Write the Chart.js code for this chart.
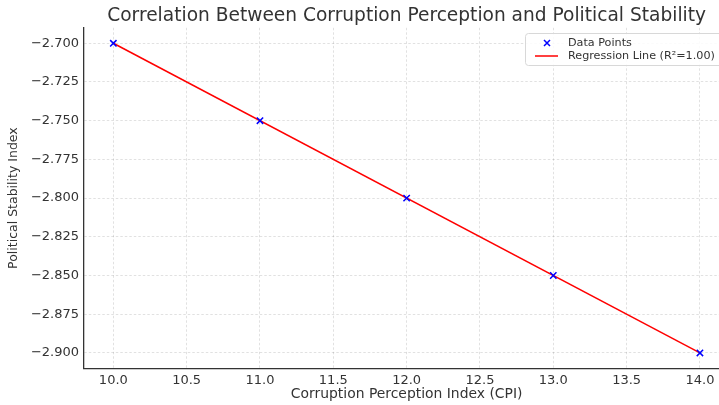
<!DOCTYPE html>
<html>
<head>
<meta charset="utf-8">
<script src="https://cdn.jsdelivr.net/npm/chart.js@4.4.0/dist/chart.umd.min.js"></script>
<style>
  html, body { margin: 0; padding: 0; background: #fff; }
  #wrap { width: 719px; height: 405px; }
</style>
</head>
<body>
<div id="wrap"><canvas id="chart" width="719" height="405"></canvas></div>
<script>
const cpiValues = [10, 11, 12, 13, 14];
const stabilityValues = [-2.70, -2.75, -2.80, -2.85, -2.90];
const regressionX = [10, 14];
const regressionY = [-2.70, -2.90];

const titleText = 'Correlation Between Corruption Perception and Political Stability';
const xTitle = 'Corruption Perception Index (CPI)';
const yTitle = 'Political Stability Index';
const legendLabels = ['Data Points', 'Regression Line (R\u00b2=1.00)'];

const FONT = '"DejaVu Sans", sans-serif';
const TEXT = '#333';

function fmtMinus(v, digits) {
    return v.toFixed(digits).replace('-', '\u2212');
}

// titles + legend, placed like the matplotlib original
const decorations = {
    id: 'decorations',
    afterDraw(chart) {
        const { ctx, chartArea, scales } = chart;
        const cx = scales.x.getPixelForValue(12);
        ctx.save();
        ctx.fillStyle = TEXT;
        ctx.textAlign = 'center';
        ctx.textBaseline = 'middle';
        ctx.font = '18.6px ' + FONT;
        ctx.fillText(titleText, cx, 16);
        ctx.font = '13.9px ' + FONT;
        ctx.fillText(xTitle, cx, 394);
        ctx.font = '12.5px ' + FONT;
        ctx.translate(14, (chartArea.top + chartArea.bottom) / 2);
        ctx.rotate(-Math.PI / 2);
        ctx.fillText(yTitle, 0, 0);
        ctx.restore();

        // legend
        ctx.save();
        const bx = 525, by = 33, bw = 200, bh = 32;
        ctx.fillStyle = 'rgba(255,255,255,0.85)';
        ctx.strokeStyle = '#d8d8d8';
        ctx.lineWidth = 1;
        ctx.beginPath();
        ctx.roundRect(bx + 0.5, by + 0.5, bw, bh, 3);
        ctx.fill();
        ctx.stroke();

        ctx.strokeStyle = '#0000ff';
        ctx.lineWidth = 1.5;
        const mx = 547, my = 43, r = 3;
        ctx.beginPath();
        ctx.moveTo(mx - r, my - r); ctx.lineTo(mx + r, my + r);
        ctx.moveTo(mx - r, my + r); ctx.lineTo(mx + r, my - r);
        ctx.stroke();

        ctx.strokeStyle = '#ff0000';
        ctx.beginPath();
        ctx.moveTo(535, 56); ctx.lineTo(558, 56);
        ctx.stroke();

        ctx.fillStyle = TEXT;
        ctx.font = '11.2px ' + FONT;
        ctx.textAlign = 'left';
        ctx.textBaseline = 'middle';
        ctx.fillText(legendLabels[0], 568, 43);
        ctx.fillText(legendLabels[1], 568, 56);
        ctx.restore();
    }
};

const gridOpts = {
    color: 'rgba(0,0,0,0.15)',
    lineWidth: 0.8,
    drawTicks: false
};

new Chart(document.getElementById('chart'), {
    type: 'scatter',
    data: {
        datasets: [
            {
                label: legendLabels[0],
                data: cpiValues.map((x, i) => ({ x, y: stabilityValues[i] })),
                pointStyle: 'crossRot',
                pointRadius: 4.5,
                pointHoverRadius: 4.5,
                borderColor: '#0000ff',
                backgroundColor: '#0000ff',
                pointBorderWidth: 1.5,
                order: 1
            },
            {
                label: legendLabels[1],
                type: 'line',
                data: regressionX.map((x, i) => ({ x, y: regressionY[i] })),
                borderColor: '#ff0000',
                borderWidth: 1.5,
                pointRadius: 0,
                fill: false,
                order: 2
            }
        ]
    },
    options: {
        responsive: false,
        animation: false,
        layout: { autoPadding: false, padding: { top: 27.8, left: 0, right: 0, bottom: 0 } },
        plugins: {
            legend: { display: false },
            title: { display: false },
            tooltip: { enabled: false }
        },
        scales: {
            x: {
                type: 'linear',
                min: 9.8,
                max: 14.13,
                afterFit(scale) {
                    scale.height = 36.6;
                    scale.paddingLeft = 0;
                    scale.paddingRight = 0;
                },
                ticks: {
                    stepSize: 0.5,
                    includeBounds: false,
                    padding: 4,
                    color: TEXT,
                    font: { family: FONT, size: 13 },
                    callback: v => v.toFixed(1)
                },
                grid: gridOpts,
                border: { display: true, color: '#333', width: 1.3, dash: [2.5, 2] }
            },
            y: {
                type: 'linear',
                min: -2.91,
                max: -2.69,
                afterFit(scale) {
                    scale.width = 84;
                    scale.paddingTop = 0;
                    scale.paddingBottom = 0;
                },
                ticks: {
                    stepSize: 0.025,
                    includeBounds: false,
                    padding: 5,
                    color: TEXT,
                    font: { family: FONT, size: 13 },
                    callback: v => fmtMinus(v, 3)
                },
                grid: gridOpts,
                border: { display: true, color: '#333', width: 1.3, dash: [2.5, 2] }
            }
        }
    },
    plugins: [decorations]
});
</script>
</body>
</html>
